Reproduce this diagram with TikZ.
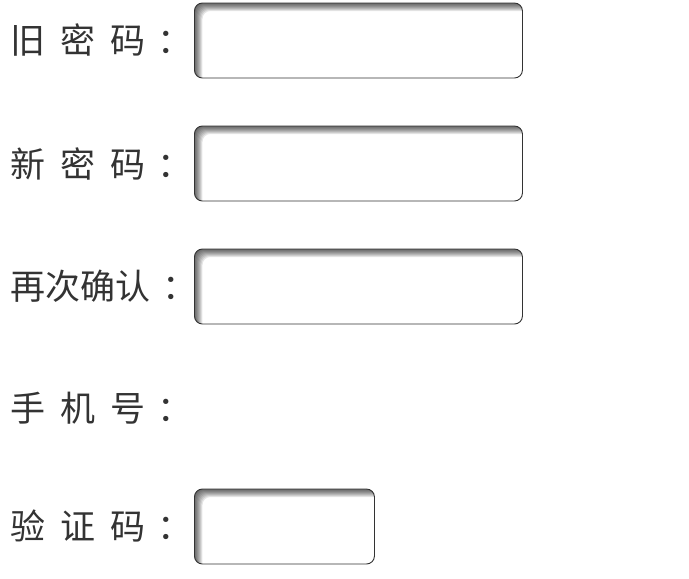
\documentclass[tikz,border=0pt]{standalone}
\usepackage{fontspec}
\newfontfamily\cjk{Noto Sans CJK SC}

\begin{document}
\begin{tikzpicture}[x=1pt, y=-1pt,
    field label/.style={anchor=west, inner sep=0pt, text=black!80, font=\cjk\fontsize{35}{40}\selectfont},
    field box/.style={anchor=west, draw=black!80, line width=0.9pt, rounded corners=8pt,
      minimum height=75pt, inner sep=0pt,
      path picture={
        \foreach \d in {1,...,8}
          \fill[black, opacity=0.1, even odd rule]
            ([shift={(-2pt,-2pt)}]path picture bounding box.south west) rectangle ([shift={(2pt,2pt)}]path picture bounding box.north east)
            [rounded corners=8pt] ([shift={(\d pt,-\d pt)}]path picture bounding box.south west) rectangle ([shift={(\d pt,-\d pt)}]path picture bounding box.north east);
      }}]

          \useasboundingbox (0,0) rectangle (689,579);

          \node[field label] (old) at (10,40.5) {旧\hspace{15pt}密\hspace{15pt}码\hspace{12pt}：};
          \node[field box, minimum width=328pt] (oldbox) at (194,40.5) {};

          \node[field label] (new) at (10,163.5) {新\hspace{15pt}密\hspace{15pt}码\hspace{12pt}：};
          \node[field box, minimum width=328pt] (newbox) at (194,163.5) {};

          \node[field label] (confirm) at (10,286.5) {再次确认\hspace{12pt}：};
          \node[field box, minimum width=328pt] (confirmbox) at (194,286.5) {};

          \node[field label] (phone) at (10,408) {手\hspace{15pt}机\hspace{15pt}号\hspace{12pt}：};

          \node[field label] (code) at (10,526.5) {验\hspace{15pt}证\hspace{15pt}码\hspace{12pt}：};
          \node[field box, minimum width=180pt] (codebox) at (194,526.5) {};
        \end{tikzpicture}
\end{document}
